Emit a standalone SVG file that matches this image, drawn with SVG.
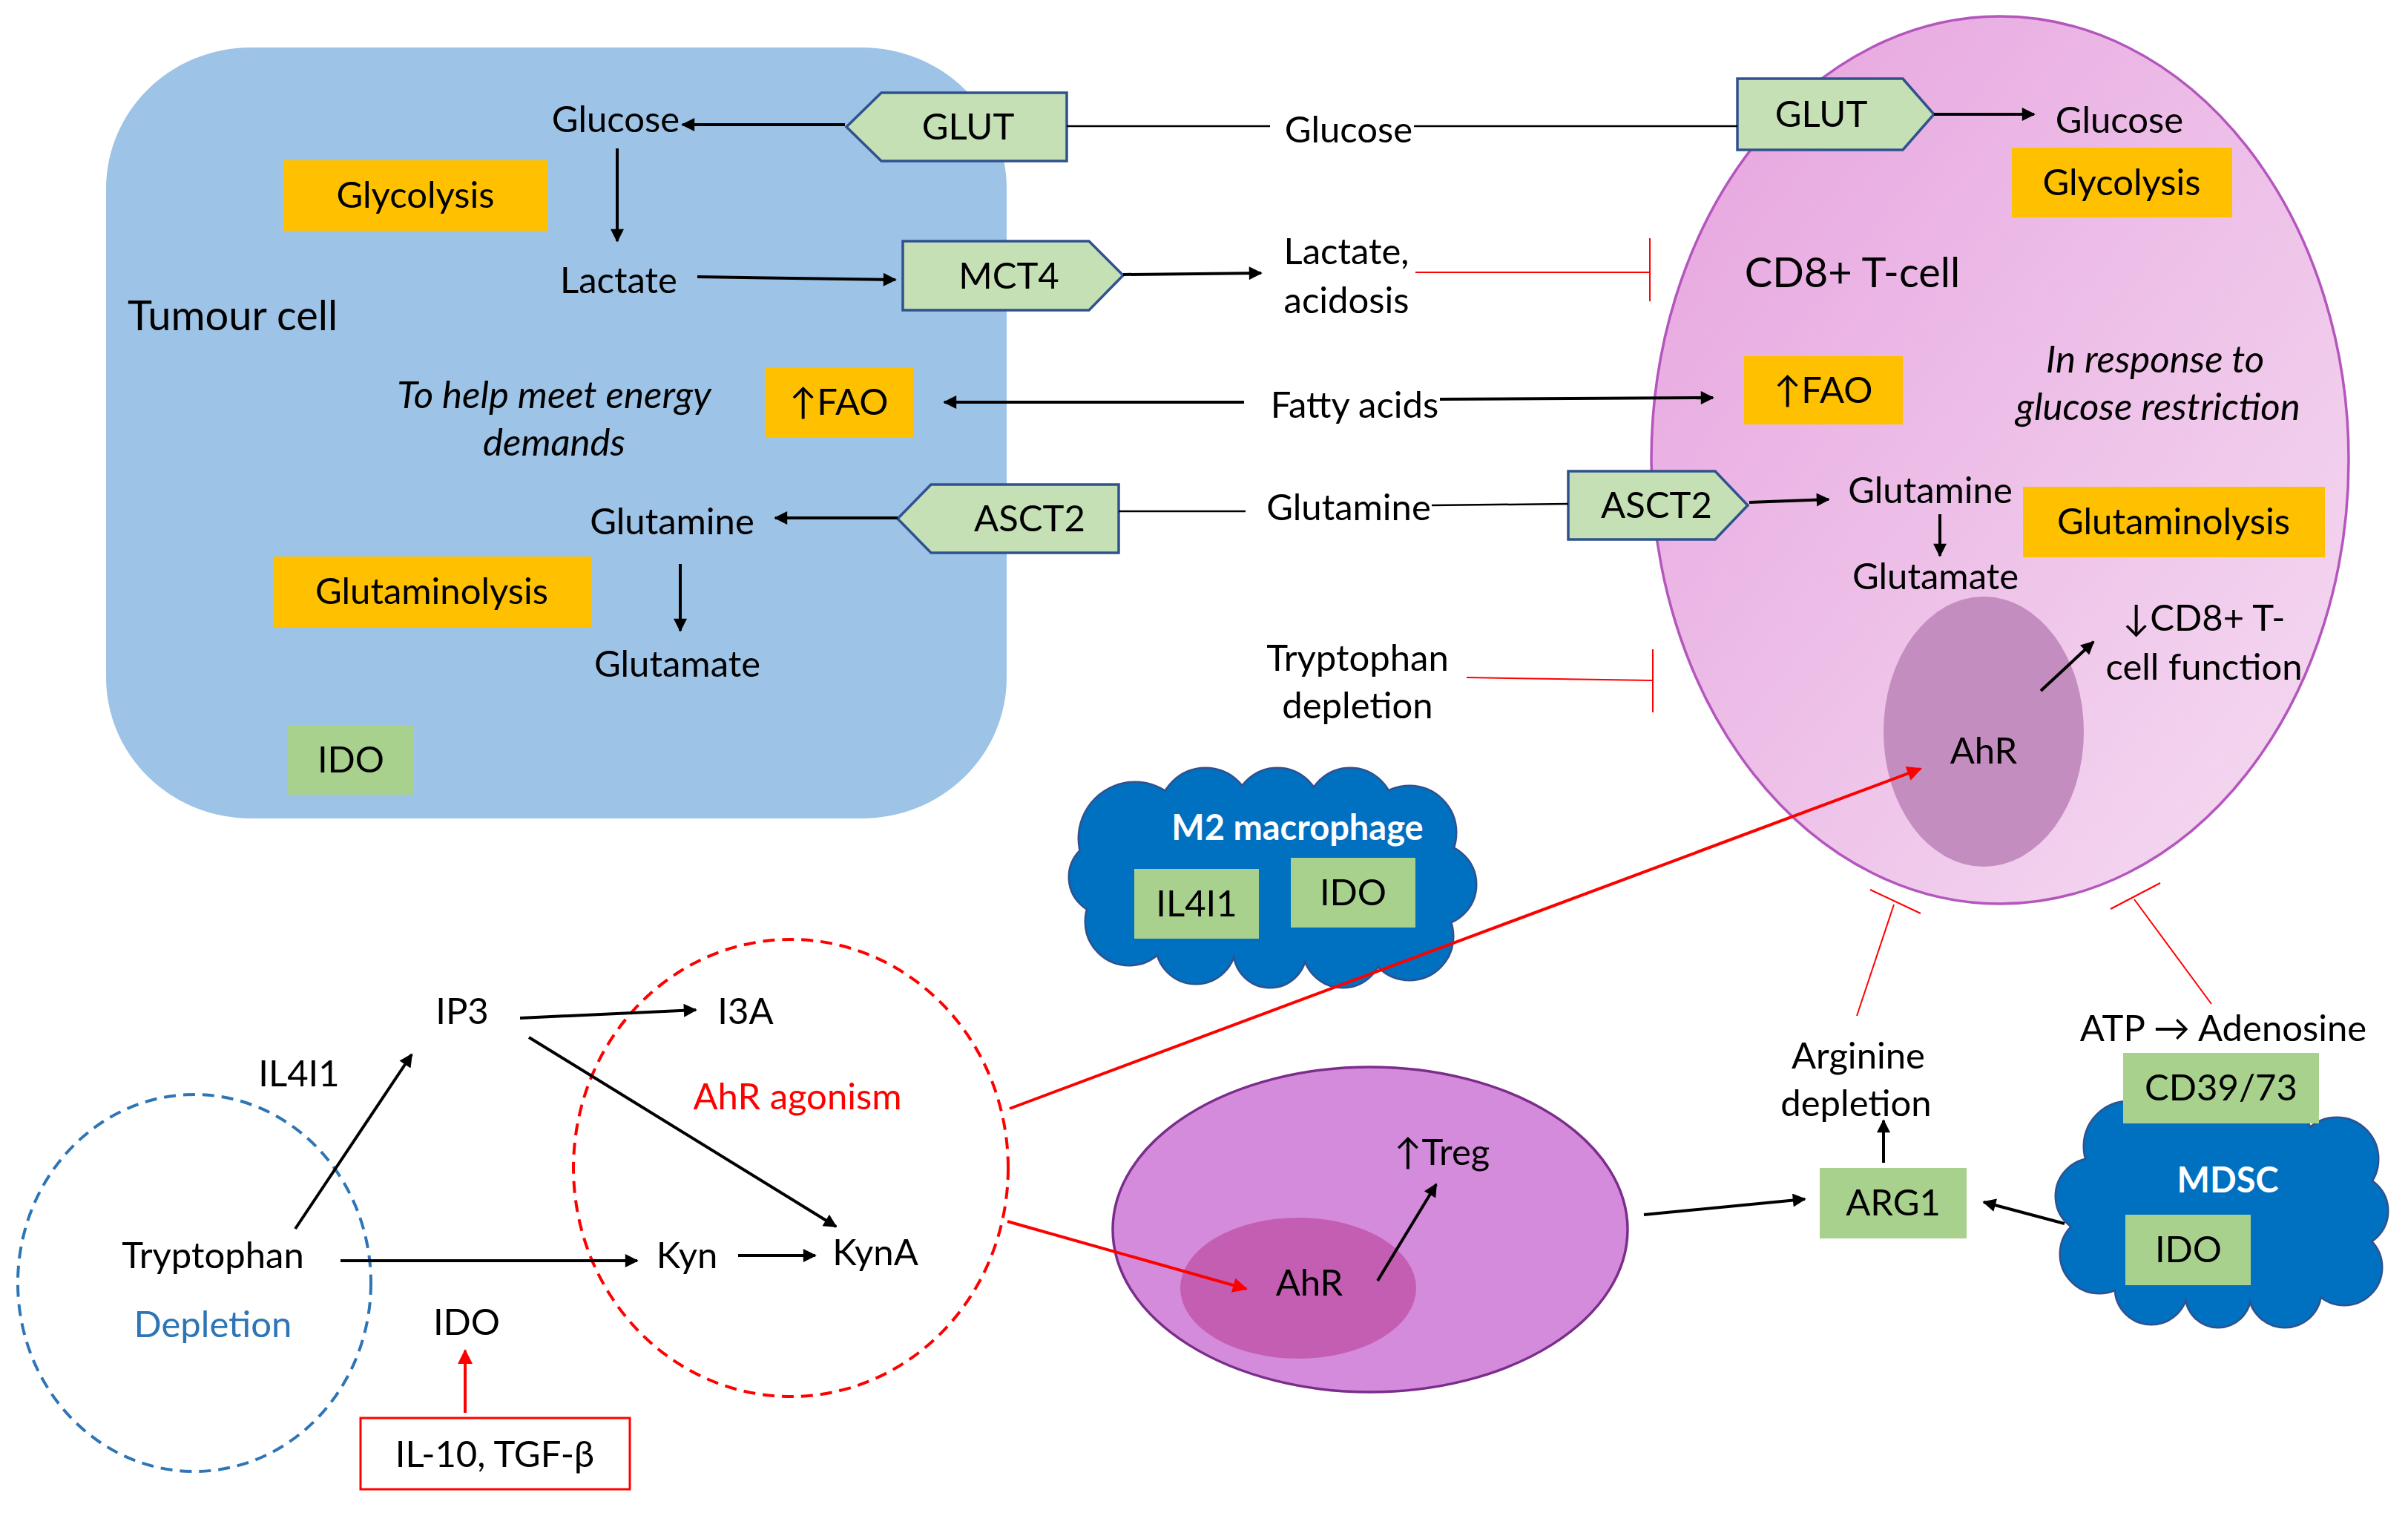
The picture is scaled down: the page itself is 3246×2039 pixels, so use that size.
<svg xmlns="http://www.w3.org/2000/svg" width="3246" height="2039" viewBox="0 0 3246 2039">
<defs>
<style>
text{font-family:Lato,"Liberation Sans",sans-serif;font-size:49px;fill:#000;text-anchor:middle}
.it{font-style:italic;font-size:51px}
.big{font-size:56px}
.wb{fill:#fff;font-weight:bold;font-size:47px}
.red{fill:#FF0000}
.blu{fill:#2E75B6}
.ln{stroke:#000;stroke-width:4;fill:none}
.thin{stroke:#000;stroke-width:2.5;fill:none}
.rln{stroke:#FF0000;stroke-width:4;fill:none}
.inh{stroke:#FF0000;stroke-width:2;fill:none}
.orange{fill:#FFC000}
.green{fill:#A9D18E}
.trans{fill:#C5E0B4;stroke:#2F528F;stroke-width:3.5}
.cloudo{fill:#0070C0;stroke:#2F528F;stroke-width:5}
.cloudf{fill:#0070C0}
</style>
<marker id="ah" viewBox="0 0 10 10" refX="9" refY="5" markerUnits="userSpaceOnUse" markerWidth="22" markerHeight="18" orient="auto"><path d="M0,0 L10,5 L0,10 z" fill="#000"/></marker>
<marker id="ahr" viewBox="0 0 10 10" refX="9" refY="5" markerUnits="userSpaceOnUse" markerWidth="24" markerHeight="20" orient="auto"><path d="M0,0 L10,5 L0,10 z" fill="#FF0000"/></marker>
<linearGradient id="pink" x1="0" y1="0" x2="1" y2="1"><stop offset="0" stop-color="#E6A2DE"/><stop offset="1" stop-color="#F5DDF2"/></linearGradient>
</defs>

<g id="tumour-cell">
<rect x="143" y="64" width="1214" height="1039" rx="195" ry="190" fill="#9DC3E6"/>
<text class="big" x="172" y="445" style="text-anchor:start">Tumour cell</text>
<text x="830" y="178">Glucose</text>
<text x="834" y="395">Lactate</text>
<text class="it" x="747" y="550">To help meet energy</text>
<text class="it" x="747" y="614">demands</text>
<text x="906" y="720">Glutamine</text>
<text x="913" y="912">Glutamate</text>
</g>
<g id="glycolysis-left"><rect class="orange" x="382" y="216" width="356" height="95"/><text x="560" y="280">Glycolysis</text></g>
<g id="fao-left"><rect class="orange" x="1031" y="495" width="201" height="95"/><text x="1131" y="559">↑FAO</text></g>
<g id="glutaminolysis-left"><rect class="orange" x="368" y="750" width="429" height="95"/><text x="582" y="814">Glutaminolysis</text></g>
<g id="ido-tumour"><rect class="green" x="388" y="977" width="170" height="94"/><text x="473" y="1041">IDO</text></g>
<g id="glut-left"><polygon class="trans" points="1141,171 1188,125 1438,125 1438,217 1188,217"/><text x="1305" y="188">GLUT</text></g>
<g id="mct4"><polygon class="trans" points="1217,325 1468,325 1514,371 1468,418 1217,418"/><text x="1360" y="389">MCT4</text></g>
<g id="asct2-left"><polygon class="trans" points="1210,699 1255,653 1508,653 1508,745 1255,745"/><text x="1388" y="716">ASCT2</text></g>

<g id="extracellular">
<text x="1818" y="192">Glucose</text>
<text x="1815" y="356">Lactate,</text>
<text x="1815" y="422">acidosis</text>
<text x="1826" y="563">Fatty acids</text>
<text x="1818" y="701">Glutamine</text>
<text x="1830" y="904">Tryptophan</text>
<text x="1830" y="968">depletion</text>
</g>

<g id="cd8-tcell">
<ellipse cx="2696" cy="620" rx="470" ry="598" fill="url(#pink)" stroke="#B456BD" stroke-width="3.5"/>
<ellipse cx="2674" cy="986" rx="135" ry="182" fill="#C48DBF"/>
<text class="big" x="2497" y="387">CD8+ T-cell</text>
<text x="2857" y="179">Glucose</text>
<text class="it" x="2905" y="502">In response to</text>
<text class="it" x="2909" y="566">glucose restriction</text>
<text x="2602" y="678">Glutamine</text>
<text x="2609" y="794">Glutamate</text>
<text x="2971" y="850">↓CD8+ T-</text>
<text x="2971" y="916">cell function</text>
<text x="2674" y="1029">AhR</text>
</g>
<g id="glycolysis-right"><rect class="orange" x="2712" y="199" width="297" height="94"/><text x="2860" y="263">Glycolysis</text></g>
<g id="fao-right"><rect class="orange" x="2351" y="480" width="214" height="92"/><text x="2458" y="543">↑FAO</text></g>
<g id="glutaminolysis-right"><rect class="orange" x="2727" y="656" width="407" height="95"/><text x="2930" y="720">Glutaminolysis</text></g>
<g id="glut-right"><polygon class="trans" points="2342,106 2565,106 2607,154 2565,202 2342,202"/><text x="2455" y="171">GLUT</text></g>
<g id="asct2-right"><polygon class="trans" points="2114,635 2312,635 2356,681 2312,727 2114,727"/><text x="2233" y="698">ASCT2</text></g>

<g id="m2-macrophage">
<g class="cloudo">
<circle cx="1530" cy="1130" r="75"/><circle cx="1625" cy="1098" r="62"/><circle cx="1722" cy="1094" r="58"/><circle cx="1820" cy="1094" r="58"/><circle cx="1900" cy="1122" r="62"/><circle cx="1935" cy="1192" r="54"/><circle cx="1900" cy="1262" r="58"/><circle cx="1810" cy="1277" r="53"/><circle cx="1712" cy="1282" r="48"/><circle cx="1612" cy="1272" r="53"/><circle cx="1522" cy="1242" r="58"/><circle cx="1492" cy="1182" r="50"/>
</g>
<g class="cloudf">
<circle cx="1530" cy="1130" r="75"/><circle cx="1625" cy="1098" r="62"/><circle cx="1722" cy="1094" r="58"/><circle cx="1820" cy="1094" r="58"/><circle cx="1900" cy="1122" r="62"/><circle cx="1935" cy="1192" r="54"/><circle cx="1900" cy="1262" r="58"/><circle cx="1810" cy="1277" r="53"/><circle cx="1712" cy="1282" r="48"/><circle cx="1612" cy="1272" r="53"/><circle cx="1522" cy="1242" r="58"/><circle cx="1492" cy="1182" r="50"/>
<ellipse cx="1715" cy="1185" rx="225" ry="105"/>
</g>
<text class="wb" x="1749" y="1132">M2 macrophage</text>
<rect class="green" x="1529" y="1171" width="168" height="94"/><text x="1613" y="1235">IL4I1</text>
<rect class="green" x="1740" y="1156" width="168" height="94"/><text x="1824" y="1220">IDO</text>
</g>

<g id="mdsc">
<g class="cloudo">
<circle cx="2870" cy="1545" r="60"/><circle cx="2960" cy="1535" r="55"/><circle cx="3060" cy="1535" r="55"/><circle cx="3150" cy="1562" r="55"/><circle cx="3170" cy="1632" r="48"/><circle cx="3160" cy="1708" r="50"/><circle cx="3080" cy="1740" r="48"/><circle cx="2990" cy="1745" r="43"/><circle cx="2900" cy="1736" r="48"/><circle cx="2830" cy="1690" r="52"/><circle cx="2822" cy="1612" r="50"/>
</g>
<g class="cloudf">
<circle cx="2870" cy="1545" r="60"/><circle cx="2960" cy="1535" r="55"/><circle cx="3060" cy="1535" r="55"/><circle cx="3150" cy="1562" r="55"/><circle cx="3170" cy="1632" r="48"/><circle cx="3160" cy="1708" r="50"/><circle cx="3080" cy="1740" r="48"/><circle cx="2990" cy="1745" r="43"/><circle cx="2900" cy="1736" r="48"/><circle cx="2830" cy="1690" r="52"/><circle cx="2822" cy="1612" r="50"/>
<ellipse cx="2995" cy="1635" rx="170" ry="110"/>
</g>
<text class="wb" x="3003" y="1607">MDSC</text>
<rect class="green" x="2865" y="1637" width="169" height="95"/><text x="2950" y="1701">IDO</text>
</g>
<g id="cd39-73"><rect class="green" x="2862" y="1419" width="264" height="95"/><text x="2994" y="1483">CD39/73</text><text x="2997" y="1403">ATP → Adenosine</text></g>
<g id="arg1"><rect class="green" x="2453" y="1574" width="198" height="95"/><text x="2552" y="1638">ARG1</text><text x="2505" y="1440">Arginine</text><text x="2502" y="1504">depletion</text></g>

<g id="treg-cell">
<ellipse cx="1847" cy="1657" rx="347" ry="219" fill="#D58BDB" stroke="#7B2D8B" stroke-width="3.5"/>
<ellipse cx="1750" cy="1736" rx="159" ry="95" fill="#C45EB3"/>
<text x="1765" y="1746">AhR</text>
<text x="1944" y="1570">↑Treg</text>
</g>

<g id="tryptophan-pathway">
<ellipse cx="262" cy="1729" rx="238" ry="254" fill="none" stroke="#2E75B6" stroke-width="4" stroke-dasharray="16,10"/>
<ellipse cx="1066" cy="1574" rx="293" ry="308" fill="none" stroke="#FF0000" stroke-width="4" stroke-dasharray="16,10"/>
<text class="red" x="1075" y="1495">AhR agonism</text>
<text x="287" y="1709">Tryptophan</text>
<text class="blu" x="287" y="1802">Depletion</text>
<text x="403" y="1464">IL4I1</text>
<text x="623" y="1380">IP3</text>
<text x="1005" y="1380">I3A</text>
<text x="926" y="1709">Kyn</text>
<text x="1180" y="1705">KynA</text>
<text x="629" y="1799">IDO</text>
<rect x="486" y="1911" width="363" height="96" fill="none" stroke="#FF0000" stroke-width="3"/>
<text x="667" y="1977">IL-10, TGF-β</text>
</g>

<g id="connectors">
<line class="ln" x1="1139" y1="168" x2="920" y2="168" marker-end="url(#ah)"/>
<line class="ln" x1="832" y1="200" x2="832" y2="325" marker-end="url(#ah)"/>
<line class="ln" x1="940" y1="373" x2="1207" y2="377" marker-end="url(#ah)"/>
<line class="ln" x1="1514" y1="370" x2="1700" y2="368" marker-end="url(#ah)"/>
<line class="ln" x1="1677" y1="542" x2="1273" y2="542" marker-end="url(#ah)"/>
<line class="ln" x1="1941" y1="538" x2="2309" y2="536" marker-end="url(#ah)"/>
<line class="ln" x1="1210" y1="698" x2="1045" y2="698" marker-end="url(#ah)"/>
<line class="ln" x1="917" y1="760" x2="917" y2="850" marker-end="url(#ah)"/>
<line class="thin" x1="1438" y1="170" x2="1712" y2="170"/>
<line class="thin" x1="1906" y1="170" x2="2342" y2="170"/>
<line class="thin" x1="1508" y1="689" x2="1679" y2="689"/>
<line class="thin" x1="1930" y1="681" x2="2114" y2="679"/>
<line class="ln" x1="2607" y1="154" x2="2742" y2="154" marker-end="url(#ah)"/>
<line class="ln" x1="2358" y1="677" x2="2465" y2="673" marker-end="url(#ah)"/>
<line class="ln" x1="2615" y1="693" x2="2615" y2="749" marker-end="url(#ah)"/>
<line class="ln" x1="2751" y1="931" x2="2822" y2="865" marker-end="url(#ah)"/>
<polyline class="inh" points="1908,367 2224,367"/>
<line class="inh" x1="2224" y1="321" x2="2224" y2="406"/>
<polyline class="inh" points="1977,913 2228,917"/>
<line class="inh" x1="2228" y1="875" x2="2228" y2="960"/>
<line class="inh" x1="2503" y1="1369" x2="2553" y2="1219"/>
<line class="inh" x1="2521" y1="1199" x2="2589" y2="1231"/>
<line class="inh" x1="2981" y1="1353" x2="2877" y2="1212"/>
<line class="inh" x1="2845" y1="1225" x2="2912" y2="1190"/>
<line class="rln" x1="1361" y1="1494" x2="2589" y2="1036" marker-end="url(#ahr)"/>
<line class="rln" x1="1358" y1="1646" x2="1680" y2="1737" marker-end="url(#ahr)"/>
<line class="ln" x1="1857" y1="1726" x2="1936" y2="1596" marker-end="url(#ah)"/>
<line class="ln" x1="2216" y1="1637" x2="2433" y2="1616" marker-end="url(#ah)"/>
<line class="ln" x1="2783" y1="1649" x2="2674" y2="1620" marker-end="url(#ah)"/>
<line class="ln" x1="2539" y1="1567" x2="2539" y2="1510" marker-end="url(#ah)"/>
<line class="ln" x1="701" y1="1372" x2="938" y2="1361" marker-end="url(#ah)"/>
<line class="ln" x1="713" y1="1398" x2="1127" y2="1653" marker-end="url(#ah)"/>
<line class="ln" x1="398" y1="1656" x2="555" y2="1421" marker-end="url(#ah)"/>
<line class="ln" x1="459" y1="1699" x2="859" y2="1699" marker-end="url(#ah)"/>
<line class="ln" x1="995" y1="1692" x2="1099" y2="1692" marker-end="url(#ah)"/>
<line class="rln" x1="627" y1="1904" x2="627" y2="1820" marker-end="url(#ahr)"/>
</g>
</svg>
